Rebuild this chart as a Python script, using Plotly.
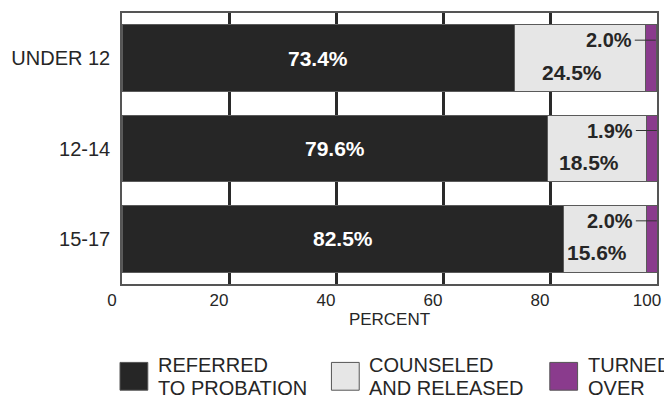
import plotly.graph_objects as go

categories = ["UNDER 12", "12-14", "15-17"]
referred = [73.4, 79.6, 82.5]
counseled = [24.5, 18.5, 15.6]
turned = [2.0, 1.9, 2.0]
series_names = ["REFERRED TO PROBATION", "COUNSELED AND RELEASED", "TURNED OVER"]
legend_lines = [["REFERRED", "TO PROBATION"], ["COUNSELED", "AND RELEASED"], ["TURNED", "OVER"]]
x_ticks = [0, 20, 40, 60, 80, 100]
x_title = "PERCENT"

colors = ["#262626", "#e6e6e6", "#8a3b8d"]
FONT = "Liberation Sans, Arial, sans-serif"

# page body has an 8px default margin, so the figure is drawn 8px smaller/offset
OFF = 8
W, H = 672 - OFF, 398 - OFF
ML, MR, MT, MB = 118 - OFF, 15, 11 - OFF, 114
PW, PH = W - ML - MR, H - MT - MB

fig = go.Figure()
for name, vals, col in zip(series_names, [referred, counseled, turned], colors):
    fig.add_trace(go.Bar(
        y=categories, x=vals, name=name, orientation="h",
        marker=dict(color=col, line=dict(color="#5a5a5a", width=1)),
        showlegend=False, hoverinfo="x+name",
    ))

annotations = []
shapes = []
for i, cat in enumerate(categories):
    r, c, t = referred[i], counseled[i], turned[i]
    annotations.append(dict(x=r / 2, y=cat, text=f"{r:.1f}%", showarrow=False,
                            font=dict(family=FONT, size=21, color="white", weight="bold")))
    annotations.append(dict(x=r + c / 2, y=cat, text=f"{c:.1f}%", showarrow=False,
                            xshift=-8, yshift=-14,
                            font=dict(family=FONT, size=21, color="#262626", weight="bold")))
    annotations.append(dict(x=r + c, y=cat, text=f"{t:.1f}%", showarrow=False,
                            xanchor="right", xshift=-12, yshift=18,
                            font=dict(family=FONT, size=20, color="#262626", weight="bold")))
    shapes.append(dict(type="line", xref="x", yref="y", xsizemode="pixel", ysizemode="pixel",
                       xanchor=r + c, yanchor=i, x0=-11, x1=10, y0=18, y1=18,
                       line=dict(color="#333333", width=1)))

# custom legend below the plot (positions given in window pixels)
def px_to_paper_x(px):
    return (px - OFF - ML) / PW

def px_to_paper_y(py):
    return (H - MB - (py - OFF)) / PH

leg_x = [116, 329, 549]
for k, (lines, col) in enumerate(zip(legend_lines, colors)):
    x0 = leg_x[k]
    shapes.append(dict(type="rect", xref="paper", yref="paper",
                       x0=px_to_paper_x(x0), x1=px_to_paper_x(x0 + 28),
                       y0=px_to_paper_y(391), y1=px_to_paper_y(363),
                       fillcolor=col, line=dict(color="#555555", width=1)))
    for j, line in enumerate(lines):
        annotations.append(dict(xref="paper", yref="paper",
                                x=px_to_paper_x(x0 + 36), y=px_to_paper_y(366 + 23 * j),
                                xanchor="left", yanchor="middle", text=line, showarrow=False,
                                font=dict(family=FONT, size=20, color="#262626")))

fig.update_layout(
    width=W, height=H, barmode="stack", bargap=0.26,
    margin=dict(l=ML, r=MR, t=MT, b=MB),
    paper_bgcolor="white", plot_bgcolor="white",
    font=dict(family=FONT, color="#262626"),
    annotations=annotations, shapes=shapes,
    xaxis=dict(range=[0, 100], tickvals=x_ticks, ticktext=[str(v) for v in x_ticks],
               showgrid=True, gridcolor="#2a2a2a", gridwidth=3, zeroline=False,
               showline=True, mirror=True, linecolor="#555555", linewidth=1.5,
               ticks="", ticklabelshift=-10,
               tickfont=dict(size=17, family=FONT, color="#262626"),
               title=dict(text=x_title, font=dict(size=17, family=FONT, color="#262626"), standoff=4)),
    yaxis=dict(categoryorder="array", categoryarray=categories, autorange="reversed",
               showgrid=False, zeroline=False, showline=True, mirror=True,
               linecolor="#555555", linewidth=1.5, ticks="", ticklabelstandoff=6,
               tickfont=dict(size=20, family=FONT, color="#262626")),
)

fig.write_html("out.html")
